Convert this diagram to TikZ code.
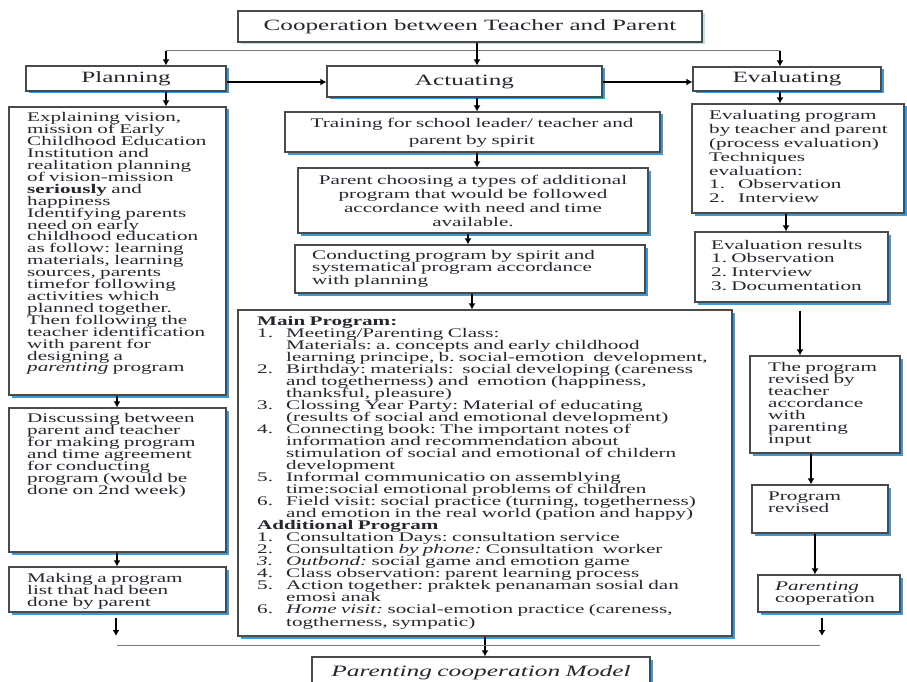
\documentclass[tikz,border=0pt]{standalone}
\usepackage{fontspec}
\setmainfont{Liberation Serif}[FakeStretch=1.6]
\usetikzlibrary{arrows.meta,shadows}
\definecolor{boxline}{HTML}{4A4A4A}
\definecolor{shblue}{HTML}{3C9BD6}
\definecolor{shcyan}{HTML}{B4E2EE}
\definecolor{txt}{HTML}{26262E}
\definecolor{busgray}{HTML}{7A7A7A}
\newcommand\fs[2]{\fontsize{#1}{#2}\selectfont\lineskiplimit=-30pt\lineskip=0pt\frenchspacing}
\newcommand\nm[1]{\makebox[29pt][l]{#1}}
\newcommand\bx[7][]{\node[box,minimum width={#5-#3},minimum height={#6-#4},#1] (#2) at ({(#3+#5)/2},{(#4+#6)/2}) {#7};}
\begin{document}
\begin{tikzpicture}[x=1pt,y=-1pt,
  box/.style={draw=boxline, line width=1.2pt, fill=white, inner sep=0pt, text=txt,
    general shadow={fill=shblue, shadow xshift=2.5pt, shadow yshift=-2.5pt}},
  lightshadow/.style={general shadow={fill=shcyan, shadow xshift=2.5pt, shadow yshift=-2.5pt}},
  hdr/.style={font=\fs{15.7}{16}},
  tx/.style={inner sep=0pt, text=txt, text width=700pt, align=left, anchor=base west},
  txc/.style={inner sep=0pt, text=txt, text width=700pt, align=center, anchor=base},
  arr/.style={draw=black, line width=1.3pt, -{Latex[length=6pt,width=7pt]}},
  bus/.style={draw=busgray, line width=1pt}]
\useasboundingbox (0,0) rectangle (907,682);

% boxes
\bx[lightshadow,hdr]{top}{238}{11}{702}{42}{Cooperation between Teacher and Parent}
\bx[hdr]{plan}{26}{66}{226}{91}{Planning}
\bx[hdr]{act}{327}{66}{602}{97}{Actuating}
\bx[hdr]{eval}{693}{67}{881}{91}{Evaluating}
\bx{P1}{9}{107}{226}{395}{}
\bx{P2}{9}{408}{226}{552}{}
\bx{P3}{9}{567}{226}{612}{}
\bx{train}{285}{112}{660}{152}{}
\bx{A2}{298}{168}{648}{233}{}
\bx{A3}{295}{245}{645}{293}{}
\bx{main}{238}{310}{732}{636}{}
\bx{PCM}{312}{657}{650}{697}{}
\bx{E1}{692}{104}{904}{213}{}
\bx{E2}{695}{232}{888}{302}{}
\bx{E3}{750}{356}{900}{453}{}
\bx{E4}{752}{485}{888}{533}{}
\bx{E5}{758}{575}{900}{612}{}

% texts
\node[tx,font=\fs{13.2}{11.9}] (P1t) at (27,122) {Explaining vision,\\ mission of Early\\ Childhood Education\\ Institution and\\ realitation planning\\ of vision-mission\\ \textbf{seriously} and\\ happiness\\ Identifying parents\\ need on early\\ childhood education\\ as follow: learning\\ materials, learning\\ sources, parents\\ timefor following\\ activities which\\ planned together.\\ Then following the\\ teacher identification\\ with parent for\\ designing a\\ \textit{parenting} program};
\node[tx,font=\fs{13.2}{12}] (P2t) at (27,422) {Discussing between\\ parent and teacher\\ for making program\\ and time agreement\\ for conducting\\ program (would be\\ done on 2nd week)};
\node[tx,font=\fs{13.2}{12}] (P3t) at (27,582) {Making a program\\ list that had been\\ done by parent};
\node[txc,font=\fs{13.2}{17}] (trainT) at (472,128) {Training for school leader/ teacher and\\ parent by spirit};
\node[txc,font=\fs{13.2}{14}] (A2t) at (473,184) {Parent choosing a types of additional\\ program that would be followed\\ accordance with need and time\\ available.};
\node[tx,font=\fs{13.2}{12.5}] (A3t) at (312,259) {Conducting program by spirit and\\ systematical program accordance\\ with planning};
\node[tx,font=\fs{13.2}{12.04}] (mainT) at (257,325) {\textbf{Main Program:}\\
\nm{1.}Meeting/Parenting Class:\\
\nm{}Materials: a. concepts and early childhood\\
\nm{}learning principe, b. social-emotion\ \ development,\\
\nm{2.}Birthday: materials:\ \ social developing (careness\\
\nm{}and togetherness) and\ \ emotion (happiness,\\
\nm{}thanksful, pleasure)\\
\nm{3.}Clossing Year Party: Material of educating\\
\nm{}(results of social and emotional development)\\
\nm{4.}Connecting book: The important notes of\\
\nm{}information and recommendation about\\
\nm{}stimulation of social and emotional of childern\\
\nm{}development\\
\nm{5.}Informal communicatio on assemblying\\
\nm{}time:social emotional problems of children\\
\nm{6.}Field visit: social practice (turning, togetherness)\\
\nm{}and emotion in the real world (pation and happy)\\
\textbf{Additional Program}\\
\nm{1.}Consultation Days: consultation service\\
\nm{2.}Consultation \textit{by phone:} Consultation\ \ worker\\
\nm{\textit{3.}}\textit{Outbond:} social game and emotion game\\
\nm{4.}Class observation: parent learning process\\
\nm{5.}Action together: praktek penanaman sosial dan\\
\nm{}emosi anak\\
\nm{6.}\textit{Home visit:} social-emotion practice (careness,\\
\nm{}togtherness, sympatic)};
\node[txc,font=\fs{15.9}{16}] (PCMt) at (481,676) {\textit{Parenting cooperation Model}};
\node[tx,font=\fs{13.2}{13.8}] (E1t) at (709,120) {Evaluating program\\ by teacher and parent\\ (process evaluation)\\ Techniques\\ evaluation:\\ \nm{1.}Observation\\ \nm{2.}Interview};
\node[tx,font=\fs{13.2}{13.7}] (E2t) at (711,249) {Evaluation results\\ 1. Observation\\ 2. Interview\\ 3. Documentation};
\node[tx,font=\fs{13.2}{12}] (E3t) at (768,371) {The program\\ revised by\\ teacher\\ accordance\\ with\\ parenting\\ input};
\node[tx,font=\fs{13.2}{12}] (E4t) at (768,500) {Program\\ revised};
\node[tx,font=\fs{13.2}{12}] (E5t) at (775,590) {\textit{Parenting}\\ cooperation};

% helper coordinates
\coordinate (xA) at (477,0);
\coordinate (busL) at (166,51);
\coordinate (busR) at (780,51);
\coordinate (yh) at (0,82);
\coordinate (xP) at (117,0);
\coordinate (pEnd) at (116,636);
\coordinate (xA2) at (468,0);
\coordinate (xA3) at (472,0);
\coordinate (xM) at (485,0);
\coordinate (xE2) at (786,0);
\coordinate (xE3) at (800,0);
\coordinate (xE4) at (811,0);
\coordinate (xE5) at (815,0);
\coordinate (eEnd) at (822,636);
\coordinate (bl) at (117,645);
\coordinate (br) at (820,645);

% connectors
\draw[bus] (busL) -- (busR);
\draw[arr] (busL) -- (plan.north -| busL);
\draw[arr] (busR) -- (eval.north -| busR);
\draw[arr] (top.south -| xA) -- (act.north -| xA);
\draw[arr] (plan.east |- yh) -- (act.west |- yh);
\draw[arr] (act.east |- yh) -- (eval.west |- yh);
\draw[arr] (plan.south -| busL) -- (P1.north -| busL);
\draw[arr] (P1.south -| xP) -- (P2.north -| xP);
\draw[arr] (P2.south -| xP) -- (P3.north -| xP);
\draw[arr, shorten <=5pt] (P3.south -| pEnd) -- (pEnd);
\draw[arr] (act.south -| xA) -- (train.north -| xA);
\draw[arr] (train.south -| xA) -- (A2.north -| xA);
\draw[arr] (A2.south -| xA2) -- (A3.north -| xA2);
\draw[arr] (A3.south -| xA3) -- (main.north -| xA3);
\draw[arr] (main.south -| xM) -- (PCM.north -| xM);
\draw[arr] (eval.south -| busR) -- (E1.north -| busR);
\draw[arr] (E1.south -| xE2) -- (E2.north -| xE2);
\draw[arr, shorten <=8pt] (E2.south -| xE3) -- (E3.north -| xE3);
\draw[arr] (E3.south -| xE4) -- (E4.north -| xE4);
\draw[arr] (E4.south -| xE5) -- (E5.north -| xE5);
\draw[arr, shorten <=5pt] (E5.south -| eEnd) -- (eEnd);
\draw[bus] (bl) -- (br);
\end{tikzpicture}
\end{document}
